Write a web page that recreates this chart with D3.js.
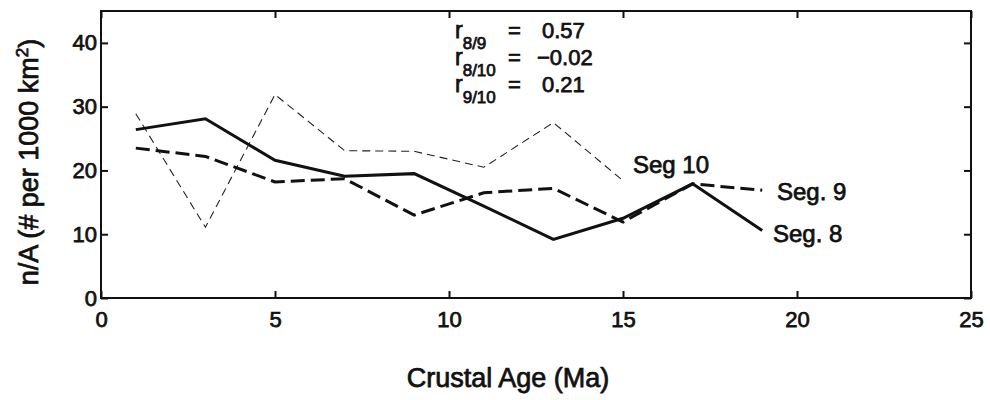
<!DOCTYPE html>
<html>
<head>
<meta charset="utf-8">
<script src="https://cdn.jsdelivr.net/npm/d3@7/dist/d3.min.js"></script>
<style>
  html, body { margin: 0; padding: 0; background: #fff; }
  svg { display: block; }
  text { font-family: "Liberation Sans", Arial, Helvetica, sans-serif; fill: #111; }
</style>
</head>
<body>
<svg id="chart" width="990" height="400"></svg>
<script>
// ---- data ----
const ages = [1, 3, 5, 7, 9, 11, 13, 15, 17, 19];
const seg8 = [26.4, 28.1, 21.6, 19.1, 19.5, 14.4, 9.2, 12.5, 17.9, 10.6];
const seg9 = [23.5, 22.2, 18.2, 18.7, 13.0, 16.5, 17.2, 11.9, 17.9, 16.9];
const ages10 = [1, 3, 5, 7, 9, 11, 13, 15];
const seg10 = [28.9, 11.1, 31.9, 23.1, 23.0, 20.5, 27.5, 18.4];
const xTicks = [0, 5, 10, 15, 20, 25];
const yTicks = [0, 10, 20, 30, 40];
const seriesNames = ["Seg. 8", "Seg. 9", "Seg 10"];
const corrLabels = ["8/9", "8/10", "9/10"];
const corrValues = ["0.57", "\u22120.02", "0.21"];

// ---- layout ----
const svg = d3.select("#chart");
const L = 101, T = 11, R = 971, B = 298;
const x = d3.scaleLinear().domain([0, 25]).range([L, R]);
const y = d3.scaleLinear().domain([0, 45]).range([B, T]);
const ink = "#111";
const sw = 0.75;

// box
svg.append("rect").attr("x", L).attr("y", T).attr("width", R - L).attr("height", B - T)
  .attr("fill", "none").attr("stroke", ink).attr("stroke-width", 2);

// axes
const fTick = "22px";
const gx = svg.append("g").attr("transform", `translate(0,${B})`)
  .call(d3.axisBottom(x).tickValues(xTicks).tickSize(-7).tickPadding(13).tickFormat(d3.format("d")));
const gxTop = svg.append("g").attr("transform", `translate(0,${T})`)
  .call(d3.axisTop(x).tickValues(xTicks).tickSize(-7).tickFormat(""));
const gy = svg.append("g").attr("transform", `translate(${L},0)`)
  .call(d3.axisLeft(y).tickValues(yTicks).tickSize(-7).tickPadding(4).tickFormat(d3.format("d")));
const gyR = svg.append("g").attr("transform", `translate(${R},0)`)
  .call(d3.axisRight(y).tickValues(yTicks).tickSize(-7).tickFormat(""));
[gx, gxTop, gy, gyR].forEach(g => {
  g.select(".domain").remove();
  g.selectAll(".tick line").attr("stroke", ink).attr("stroke-width", 2);
  g.selectAll(".tick text").style("font-size", fTick).attr("fill", ink)
    .style("font-family", "'Liberation Sans', Arial, sans-serif")
    .attr("stroke", ink).attr("stroke-width", sw);
});

// lines
const line = d3.line().x(d => x(d[0])).y(d => y(d[1]));
svg.append("path").datum(ages10.map((a, i) => [a, seg10[i]]))
  .attr("d", line).attr("fill", "none").attr("stroke", "#222")
  .attr("stroke-width", 1.1).attr("stroke-dasharray", "8,5");
svg.append("path").datum(ages.map((a, i) => [a, seg9[i]]))
  .attr("d", line).attr("fill", "none").attr("stroke", ink)
  .attr("stroke-width", 3).attr("stroke-dasharray", "14,6");
svg.append("path").datum(ages.map((a, i) => [a, seg8[i]]))
  .attr("d", line).attr("fill", "none").attr("stroke", ink)
  .attr("stroke-width", 3).attr("stroke-linejoin", "miter");

// series labels
const lblStyle = sel => sel.style("font-size", "24px").attr("stroke", ink).attr("stroke-width", sw);
svg.append("text").attr("x", 773).attr("y", 242).text(seriesNames[0]).call(lblStyle);
svg.append("text").attr("x", 777).attr("y", 200).text(seriesNames[1]).call(lblStyle);
svg.append("text").attr("x", 633).attr("y", 173).text(seriesNames[2]).call(lblStyle);

// correlation annotation
const baselines = [37.5, 65, 92];
const valX = [542, 537, 542];
corrLabels.forEach((c, i) => {
  const t = svg.append("text").attr("x", 455).attr("y", baselines[i])
    .style("font-size", "23px").attr("stroke", ink).attr("stroke-width", sw);
  t.append("tspan").text("r");
  t.append("tspan").attr("dy", 11).style("font-size", "17px").text(c);
  svg.append("text").attr("x", 508).attr("y", baselines[i]).style("font-size", "22px")
    .attr("stroke", ink).attr("stroke-width", sw).text("=");
  svg.append("text").attr("x", valX[i]).attr("y", baselines[i]).style("font-size", "22px")
    .attr("stroke", ink).attr("stroke-width", sw).text(corrValues[i]);
});

// axis titles
svg.append("text").attr("x", 508).attr("y", 387).attr("text-anchor", "middle")
  .style("font-size", "27px").attr("stroke", ink).attr("stroke-width", sw)
  .text("Crustal Age (Ma)");
const yt = svg.append("text").attr("transform", "translate(38,162) rotate(-90)")
  .attr("text-anchor", "middle").style("font-size", "27px")
  .attr("stroke", ink).attr("stroke-width", sw);
yt.append("tspan").text("n/A (# per 1000 km");
yt.append("tspan").attr("dy", -10).style("font-size", "17px").text("2");
yt.append("tspan").attr("dy", 10).text(")");
</script>
</body>
</html>
